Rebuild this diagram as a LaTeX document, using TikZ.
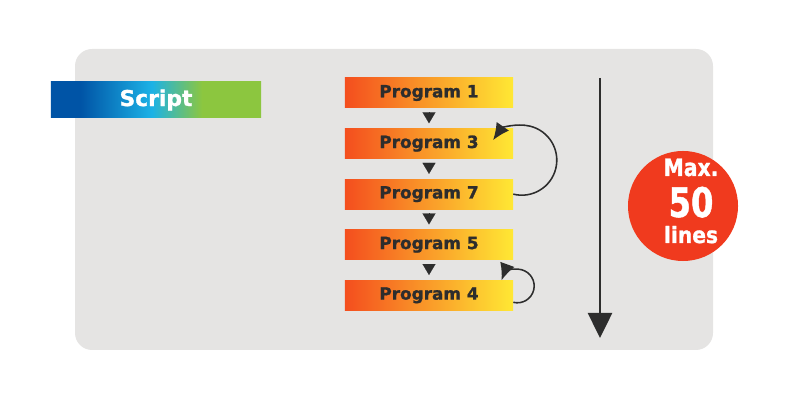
\documentclass[tikz,border=0pt]{standalone}
\usepackage{fontspec}
\setmainfont{DejaVu Sans}[BoldFeatures={FakeBold=1.3}]
\usetikzlibrary{positioning,arrows.meta,shapes}

\definecolor{panelgray}{RGB}{229,228,227}
\definecolor{darkline}{RGB}{45,45,45}
\definecolor{progorange}{RGB}{244,78,30}
\definecolor{progyellow}{RGB}{255,232,52}
\definecolor{scriptblue}{RGB}{0,84,166}
\definecolor{scriptcyan}{RGB}{28,178,230}
\definecolor{scriptgreen}{RGB}{140,198,63}
\definecolor{maxred}{RGB}{240,58,30}
\pgfdeclarehorizontalshading{scriptbar}{100bp}{color(0bp)=(scriptblue); color(32bp)=(scriptblue); color(49bp)=(scriptcyan); color(61bp)=(scriptgreen); color(100bp)=(scriptgreen)}

\begin{document}
\begin{tikzpicture}[x=0.025cm, y=0.025cm,
        prog/.style={rectangle, left color=progorange, right color=progyellow, minimum width=4.2cm, minimum height=0.75cm, inner sep=0pt, text=darkline, font=\fontsize{12}{14}\selectfont\bfseries},
        flowtip/.style={-{Triangle[width=0.325cm,length=0.275cm]}, draw=darkline, fill=darkline, line width=0.1pt, shorten <=0.1cm, shorten >=0.125cm},
        backarrow/.style={-{Latex[length=0.42cm,width=0.38cm]}, draw=darkline, line width=1.1pt},
        badgetext/.style={anchor=base, text=white, inner sep=0pt}]
        \useasboundingbox (0,0) rectangle (800,400);
        \fill[panelgray, rounded corners=0.425cm] (75,50) rectangle (713,351);
        \node[rectangle, shading=scriptbar, minimum width=5.25cm, minimum height=0.9cm, text=white, font=\fontsize{15.5}{18}\selectfont\bfseries] (script) at (156,300) {Script};
        \node[prog] (prog1) at (429,307) {Program 1};
        \node[prog, below=0.5cm of prog1] (prog3) {Program 3};
        \node[prog, below=0.5cm of prog3] (prog7) {Program 7};
        \node[prog, below=0.5cm of prog7] (prog5) {Program 5};
        \node[prog, below=0.5cm of prog5] (prog4) {Program 4};
        \draw [flowtip] (prog1.south) -- (prog3.north);
        \draw [flowtip] (prog3.south) -- (prog7.north);
        \draw [flowtip] (prog7.south) -- (prog5.north);
        \draw [flowtip] (prog5.south) -- (prog4.north);
        \draw [backarrow] (prog7.east) arc[start angle=-104, end angle=145, radius=0.875cm];
        \draw [backarrow] ([yshift=-0.175cm]prog4.east) arc[start angle=-104, end angle=160, radius=0.42cm];
        \coordinate (arrtop) at (600,322);
        \coordinate (arrbot) at (600,62);
        \draw [-{Triangle[width=0.6cm,length=0.625cm]}, draw=darkline, line width=1.8pt] (arrtop) -- (arrbot);
        \node[circle, fill=maxred, minimum size=2.75cm, inner sep=0pt] (badge) at (683,194) {};
        \node[badgetext, font=\fontsize{17}{20}\selectfont\bfseries] (maxtxt) at (691,224) {\scalebox{0.85}[1]{Max.}};
        \node[badgetext, font=\fontsize{29}{32}\selectfont\bfseries] (numtxt) at (691,183) {\scalebox{0.79}[1]{50}};
        \node[badgetext, font=\fontsize{16}{19}\selectfont\bfseries] (linestxt) at (691,157) {\scalebox{0.9}[1]{lines}};
    \end{tikzpicture}
\end{document}
